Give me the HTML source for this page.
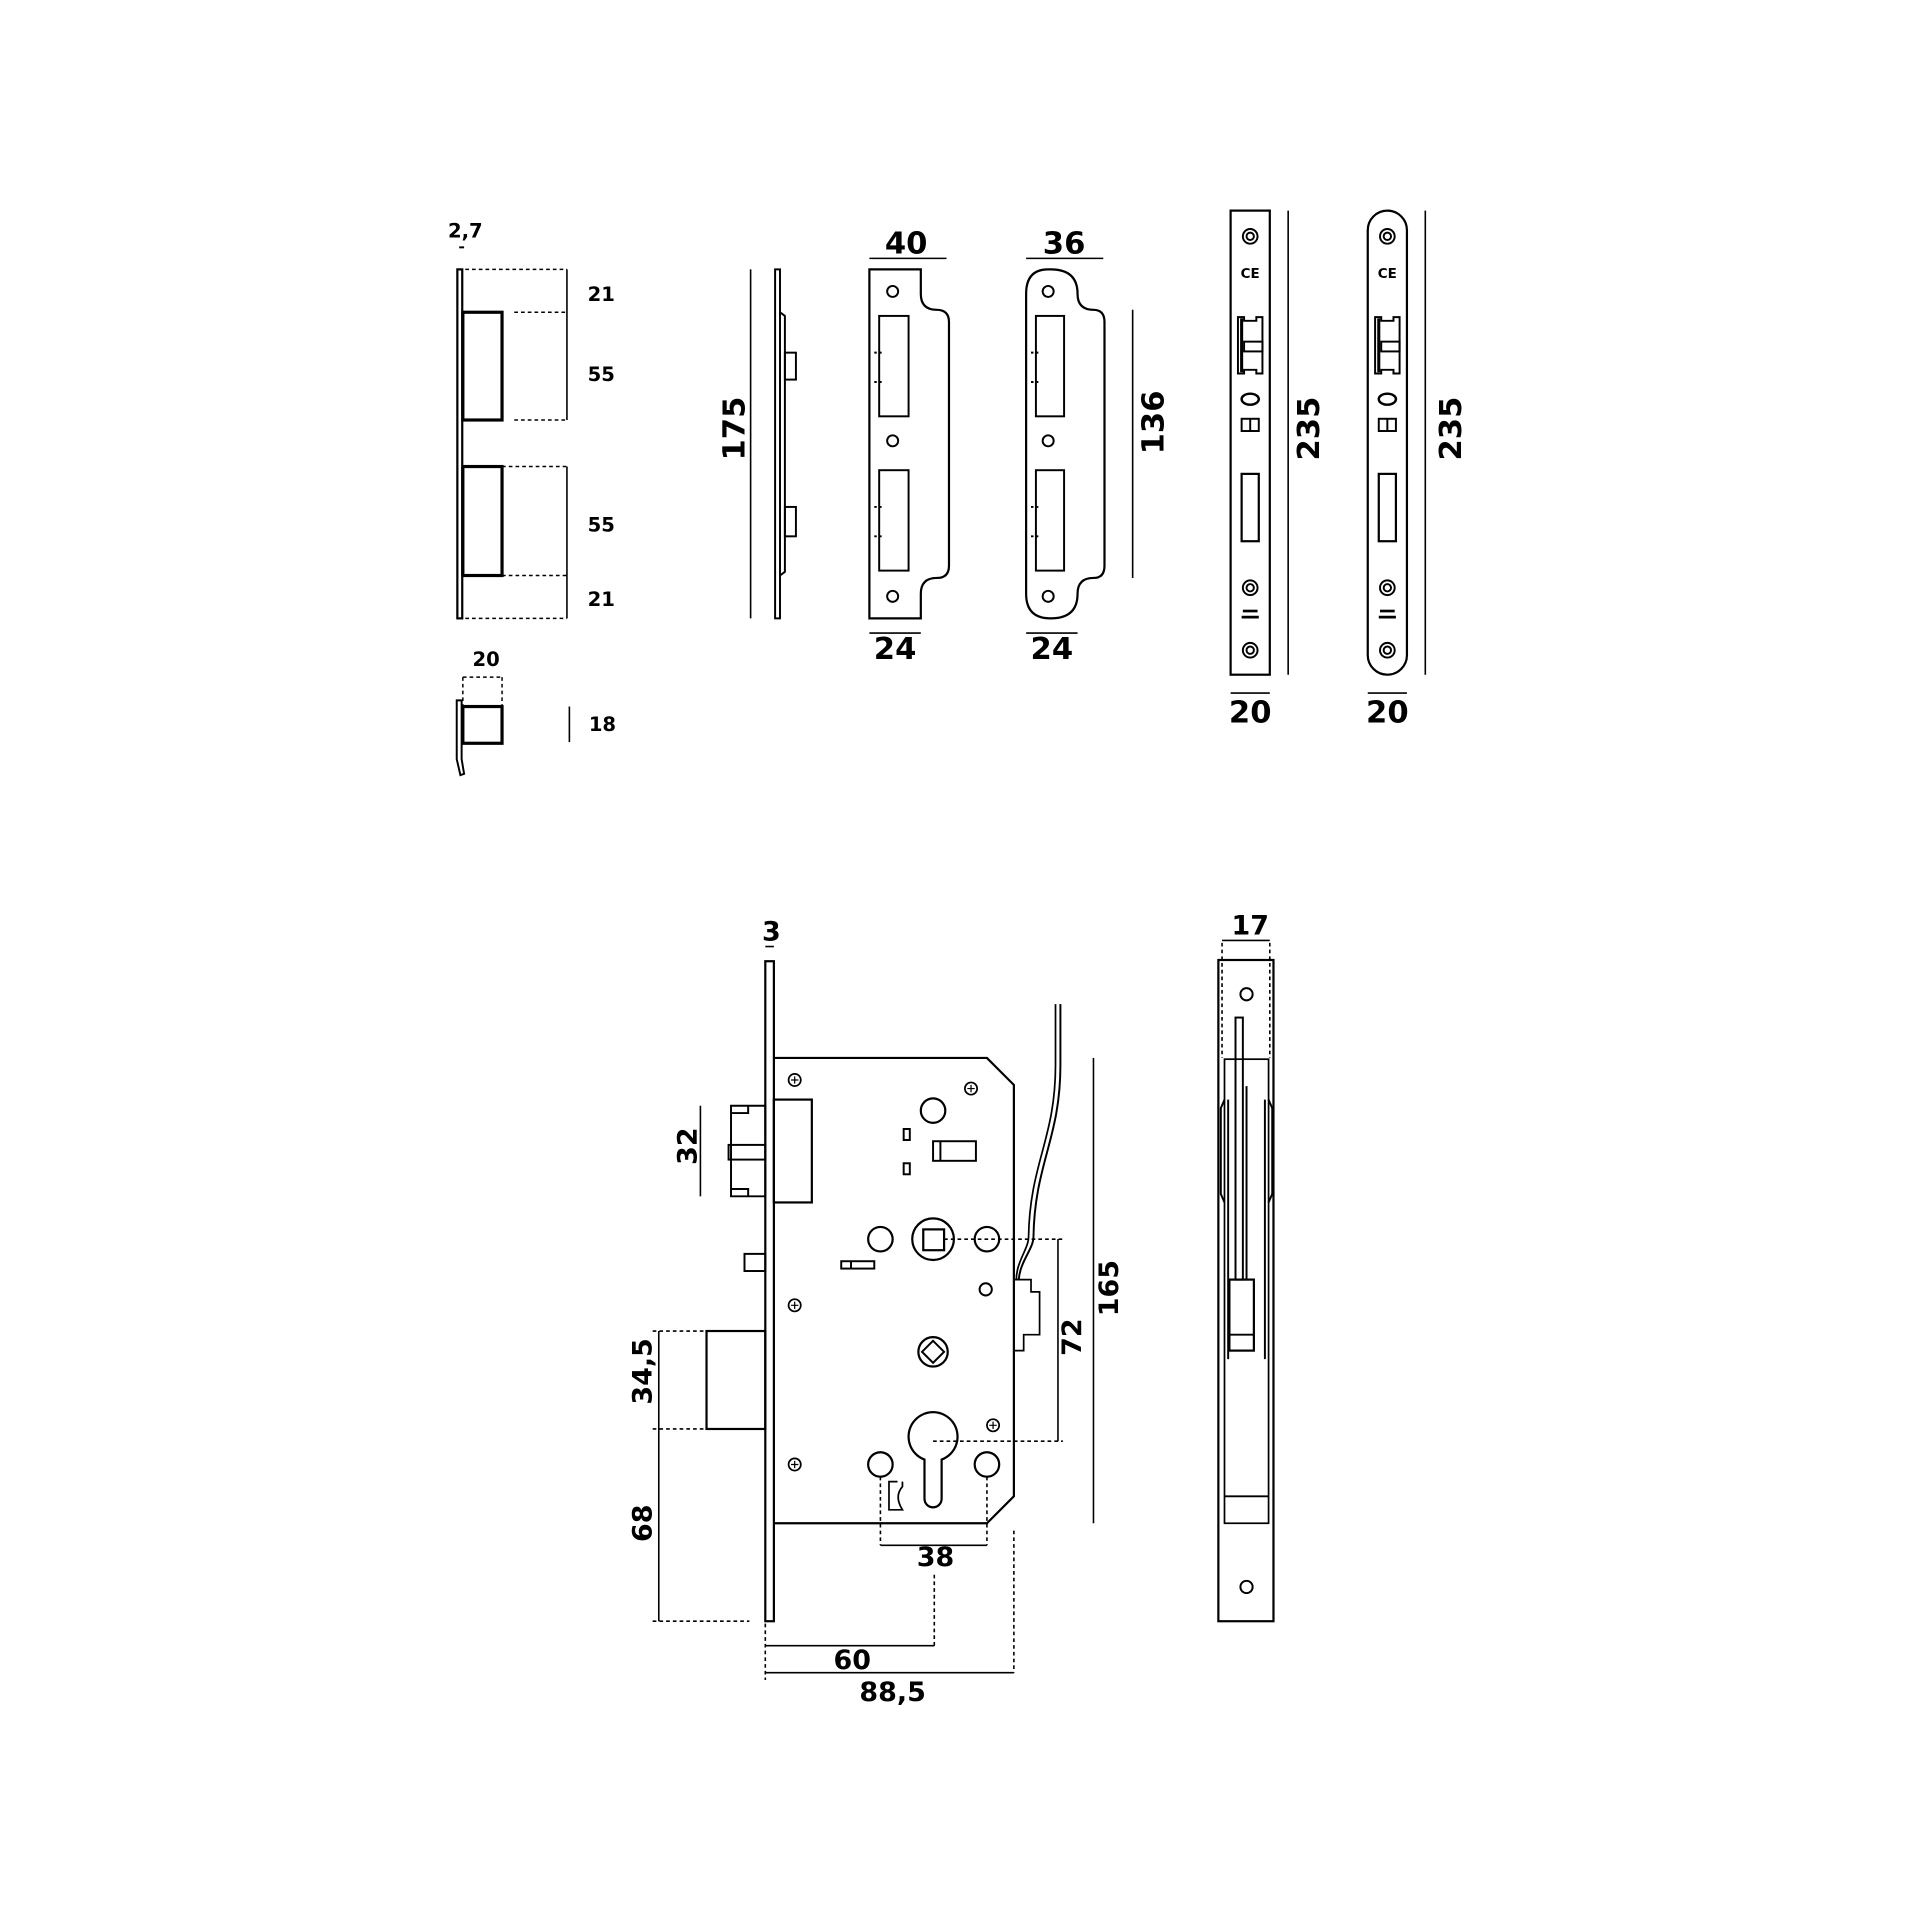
<!DOCTYPE html>
<html><head><meta charset="utf-8"><style>
html,body{margin:0;padding:0;background:#fff;}
svg{display:block;}
text{font-family:"DejaVu Sans","Liberation Sans",sans-serif;font-weight:bold;fill:#000;}
</style></head><body>
<svg width="1920" height="1920" viewBox="0 0 1568 1568" xmlns="http://www.w3.org/2000/svg">
<g fill="none" stroke="#000" stroke-width="1.6">
<!-- top-left profile -->
<rect x="373.5" y="220" width="4" height="285" stroke-width="1.8"/>
<rect x="378" y="255" width="32" height="88" stroke-width="2.6"/>
<rect x="378" y="381" width="32" height="89" stroke-width="2.6"/>
<g stroke-dasharray="3,2.5" stroke-width="1.2">
<line x1="380" y1="220" x2="463" y2="220"/><line x1="420" y1="255" x2="463" y2="255"/>
<line x1="420" y1="343" x2="463" y2="343"/><line x1="410" y1="381" x2="463" y2="381"/>
<line x1="410" y1="470" x2="463" y2="470"/><line x1="380" y1="505" x2="463" y2="505"/>
<line x1="378" y1="553" x2="410" y2="553"/><line x1="378" y1="553" x2="378" y2="577"/><line x1="410" y1="553" x2="410" y2="577"/>
</g>
<line x1="463" y1="220" x2="463" y2="343" stroke-width="1.3"/>
<line x1="463" y1="381" x2="463" y2="505" stroke-width="1.3"/>
<line x1="375" y1="202" x2="379" y2="202"/>
<rect x="378" y="577" width="32" height="30" stroke-width="2.6"/>
<path d="M373 572 L377 572 L377 620 L379 632 L376 633 L373 620 Z" stroke-width="1.6"/>
<line x1="465" y1="577" x2="465" y2="606" stroke-width="1.3"/>

<!-- strike side profile -->
<line x1="613" y1="220" x2="613" y2="505" stroke-width="1.3"/>
<rect x="633" y="220" width="4" height="285"/>
<path d="M637 255 L641 258 L641 467 L637 470"/>
<rect x="641" y="288" width="9" height="22"/>
<rect x="641" y="414" width="9" height="24"/>

<!-- strike plate 40 -->
<path d="M710 220 L752 220 L752 240 Q752 253 765 253 Q775 253 775 263 L775 462 Q775 472 765 472 Q752 472 752 485 L752 505 L710 505 Z" stroke-width="1.8"/>
<circle cx="729" cy="238" r="4.5"/><circle cx="729" cy="360" r="4.5"/><circle cx="729" cy="487" r="4.5"/>
<rect x="718" y="258" width="24" height="82"/><rect x="718" y="384" width="24" height="82"/>
<g stroke-dasharray="2,2"><line x1="714" y1="288" x2="722" y2="288"/><line x1="714" y1="312" x2="722" y2="312"/><line x1="714" y1="414" x2="722" y2="414"/><line x1="714" y1="438" x2="722" y2="438"/></g>
<line x1="710" y1="211" x2="773" y2="211" stroke-width="1.3"/>
<line x1="710" y1="517" x2="752" y2="517" stroke-width="1.3"/>

<!-- strike plate 36 -->
<path d="M856 220 L858 220 Q880 220 880 240 Q880 253 893 253 Q902 253 902 263 L902 462 Q902 472 893 472 Q880 472 880 485 Q880 505 858 505 Q838 505 838 485 L838 240 Q838 220 856 220 Z" stroke-width="1.8"/>
<circle cx="856" cy="238" r="4.5"/><circle cx="856" cy="360" r="4.5"/><circle cx="856" cy="487" r="4.5"/>
<rect x="846" y="258" width="23" height="82"/><rect x="846" y="384" width="23" height="82"/>
<g stroke-dasharray="2,2"><line x1="842" y1="288" x2="849" y2="288"/><line x1="842" y1="312" x2="849" y2="312"/><line x1="842" y1="414" x2="849" y2="414"/><line x1="842" y1="438" x2="849" y2="438"/></g>
<line x1="838" y1="211" x2="901" y2="211" stroke-width="1.3"/>
<line x1="838" y1="517" x2="880" y2="517" stroke-width="1.3"/>
<line x1="925" y1="253" x2="925" y2="472" stroke-width="1.3"/>

<!-- faceplate 1 -->
<rect x="1005" y="172" width="32" height="379" stroke-width="1.8"/>
<line x1="1052" y1="172" x2="1052" y2="551" stroke-width="1.3"/>
<line x1="1005" y1="566" x2="1037" y2="566" stroke-width="1.3"/>
<circle cx="1021" cy="193" r="6"/><circle cx="1021" cy="193" r="3"/>
<path d="M1011 259 L1016 259 L1016 262 L1026 262 L1026 259 L1031 259 L1031 305 L1026 305 L1026 302 L1016 302 L1016 305 L1011 305 Z" stroke-width="1.6"/>
<line x1="1014" y1="260" x2="1014" y2="304" stroke-width="2.5"/>
<rect x="1016" y="279" width="15" height="8"/>
<ellipse cx="1021" cy="326" rx="7" ry="4.5" stroke-width="2"/>
<rect x="1014" y="342" width="14" height="10"/><line x1="1021" y1="342" x2="1021" y2="352"/>
<rect x="1014" y="387" width="14" height="55" stroke-width="1.8"/>
<circle cx="1021" cy="480" r="6"/><circle cx="1021" cy="480" r="3"/>
<line x1="1015" y1="499" x2="1027" y2="499" stroke-width="2.2"/><line x1="1014" y1="504" x2="1028" y2="504" stroke-width="2.2"/>
<circle cx="1021" cy="531" r="6"/><circle cx="1021" cy="531" r="3"/>

<!-- faceplate 2 -->
<rect x="1117" y="172" width="32" height="379" rx="16" stroke-width="1.8"/>
<line x1="1164" y1="172" x2="1164" y2="551" stroke-width="1.3"/>
<line x1="1117" y1="566" x2="1149" y2="566" stroke-width="1.3"/>
<circle cx="1133" cy="193" r="6"/><circle cx="1133" cy="193" r="3"/>
<path d="M1123 259 L1128 259 L1128 262 L1138 262 L1138 259 L1143 259 L1143 305 L1138 305 L1138 302 L1128 302 L1128 305 L1123 305 Z" stroke-width="1.6"/>
<line x1="1126" y1="260" x2="1126" y2="304" stroke-width="2.5"/>
<rect x="1128" y="279" width="15" height="8"/>
<ellipse cx="1133" cy="326" rx="7" ry="4.5" stroke-width="2"/>
<rect x="1126" y="342" width="14" height="10"/><line x1="1133" y1="342" x2="1133" y2="352"/>
<rect x="1126" y="387" width="14" height="55" stroke-width="1.8"/>
<circle cx="1133" cy="480" r="6"/><circle cx="1133" cy="480" r="3"/>
<line x1="1127" y1="499" x2="1139" y2="499" stroke-width="2.2"/><line x1="1126" y1="504" x2="1140" y2="504" stroke-width="2.2"/>
<circle cx="1133" cy="531" r="6"/><circle cx="1133" cy="531" r="3"/>

<!-- main lock -->
<rect x="625" y="785" width="7" height="539" stroke-width="1.8"/>
<line x1="625" y1="773" x2="632" y2="773" stroke-width="1.3"/>
<path d="M632 864 L806 864 L828 886 L828 1222 L806 1244 L632 1244" stroke-width="1.8"/>
<rect x="632" y="898" width="31" height="84" stroke-width="1.8"/>
<path d="M597 903 L625 903 L625 977 L597 977 Z" stroke-width="1.6"/>
<path d="M597 909 L611 909 L611 903 M597 971 L611 971 L611 977"/>
<rect x="595" y="935" width="30" height="12" stroke-width="1.6"/>
<rect x="577" y="1087" width="48" height="80" stroke-width="1.8"/>
<rect x="608" y="1024" width="17" height="14"/>
<g stroke-width="1.4">
<circle cx="649" cy="882" r="5"/><circle cx="793" cy="889" r="5"/><circle cx="649" cy="1066" r="5"/><circle cx="649" cy="1196" r="5"/><circle cx="811" cy="1164" r="5"/>
</g>
<g stroke-width="1"><path d="M646 882h6M649 879v6M790 889h6M793 886v6M646 1066h6M649 1063v6M646 1196h6M649 1193v6M808 1164h6M811 1161v6"/></g>
<circle cx="762" cy="907" r="10" stroke-width="1.8"/>
<rect x="738" y="922" width="5" height="9"/><rect x="738" y="950" width="5" height="9"/>
<rect x="762" y="932" width="35" height="16"/><line x1="768" y1="932" x2="768" y2="948"/>
<circle cx="762" cy="1012" r="17" stroke-width="1.8"/>
<rect x="754" y="1004" width="17" height="17" stroke-width="1.8"/>
<circle cx="719" cy="1012" r="10" stroke-width="1.8"/>
<circle cx="806" cy="1012" r="10" stroke-width="1.8"/>
<circle cx="805" cy="1053" r="5"/>
<rect x="687" y="1030" width="27" height="6"/><line x1="695" y1="1030" x2="695" y2="1036"/>
<circle cx="762" cy="1104" r="12" stroke-width="1.8"/>
<path d="M762 1095 L771 1104 L762 1113 L753 1104 Z" stroke-width="1.6"/>
<path d="M755 1192 A20 20 0 1 1 769 1192 L769 1224 A7 7 0 0 1 755 1224 Z" stroke-width="1.8"/>
<circle cx="719" cy="1196" r="10" stroke-width="1.8"/>
<circle cx="806" cy="1196" r="10" stroke-width="1.8"/>
<path d="M733 1210 L726 1210 L726 1233 L737 1233 Q730 1222 737 1214 L737 1210" stroke-width="1.4"/>
<path d="M828 1045 L842 1045 L842 1055 L849 1055 L849 1090 L836 1090 L836 1103 L828 1103" stroke-width="1.4"/>
<path d="M866 820 L866 870 C866 930 845 950 844 1010 C844 1020 833 1030 832 1045" stroke-width="1.6"/>
<path d="M862 820 L862 870 C862 930 841 950 840 1010 C840 1020 830 1030 830 1045" stroke-width="1.4"/>
<!-- dims main -->
<line x1="572" y1="903" x2="572" y2="977" stroke-width="1.3"/>
<g stroke-dasharray="3,2.5" stroke-width="1.3">
<line x1="533" y1="1087" x2="577" y2="1087"/><line x1="533" y1="1167" x2="577" y2="1167"/><line x1="533" y1="1324" x2="612" y2="1324"/>
<line x1="771" y1="1012" x2="868" y2="1012"/><line x1="762" y1="1177" x2="868" y2="1177"/>
<line x1="719" y1="1206" x2="719" y2="1262"/><line x1="806" y1="1206" x2="806" y2="1262"/>
<line x1="763" y1="1286" x2="763" y2="1344"/><line x1="828" y1="1250" x2="828" y2="1366"/>
<line x1="625" y1="1326" x2="625" y2="1372"/>
<line x1="998" y1="770" x2="998" y2="864"/><line x1="1037" y1="770" x2="1037" y2="864"/>
</g>
<line x1="538" y1="1087" x2="538" y2="1324" stroke-width="1.3"/>
<line x1="864" y1="1012" x2="864" y2="1177" stroke-width="1.3"/>
<line x1="893" y1="864" x2="893" y2="1244" stroke-width="1.3"/>
<line x1="719" y1="1262" x2="806" y2="1262" stroke-width="1.3"/>
<line x1="625" y1="1344" x2="763" y2="1344" stroke-width="1.3"/>
<line x1="625" y1="1366" x2="828" y2="1366" stroke-width="1.3"/>
<!-- side view -->
<rect x="995" y="784" width="45" height="540" stroke-width="1.8"/>
<line x1="998" y1="768" x2="1037" y2="768" stroke-width="1.3"/>
<circle cx="1018" cy="812" r="5"/><circle cx="1018" cy="1296" r="5"/>
<rect x="1000" y="865" width="36" height="379" stroke-width="1.4"/>
<line x1="1000" y1="1222" x2="1036" y2="1222"/>
<rect x="1009" y="831" width="6" height="214"/>
<line x1="1018" y1="887" x2="1018" y2="1045"/>
<rect x="1004" y="1045" width="20" height="58" stroke-width="1.8"/>
<line x1="1004" y1="1090" x2="1024" y2="1090"/>
<path d="M1000 898 L997 905 L997 975 L1000 982 M1036 898 L1039 905 L1039 975 L1036 982"/>
<line x1="1003" y1="898" x2="1003" y2="1110"/><line x1="1033" y1="898" x2="1033" y2="1110"/>
</g>
<!-- labels -->
<g font-size="16" text-anchor="middle">
<text x="380" y="194">2,7</text>
<text x="491" y="246">21</text><text x="491" y="311">55</text><text x="491" y="434">55</text><text x="491" y="495">21</text>
<text x="397" y="544">20</text><text x="492" y="597">18</text>
</g>
<g font-size="25" font-weight="normal" text-anchor="middle">
<text x="740" y="207">40</text><text x="731" y="538">24</text>
<text x="869" y="207">36</text><text x="859" y="538">24</text>
<text x="1021" y="590">20</text><text x="1133" y="590">20</text>
<text x="630" y="768" font-size="22">3</text>
<text x="764" y="1279" font-size="22">38</text>
<text x="696" y="1363" font-size="22">60</text>
<text x="729" y="1389" font-size="22">88,5</text>
<text x="1021" y="763" font-size="22">17</text>
<text transform="translate(608,350) rotate(-90)">175</text>
<text transform="translate(950,345) rotate(-90)">136</text>
<text transform="translate(1077,350) rotate(-90)">235</text>
<text transform="translate(1193,350) rotate(-90)">235</text>
<text transform="translate(569,936) rotate(-90)" font-size="22">32</text>
<text transform="translate(532,1120) rotate(-90)" font-size="22">34,5</text>
<text transform="translate(532,1244) rotate(-90)" font-size="22">68</text>
<text transform="translate(883,1092) rotate(-90)" font-size="22">72</text>
<text transform="translate(913,1052) rotate(-90)" font-size="22">165</text>
</g>
<g font-size="11" text-anchor="middle"><text x="1021" y="227">CE</text><text x="1133" y="227">CE</text></g>
</svg>
</body></html>
